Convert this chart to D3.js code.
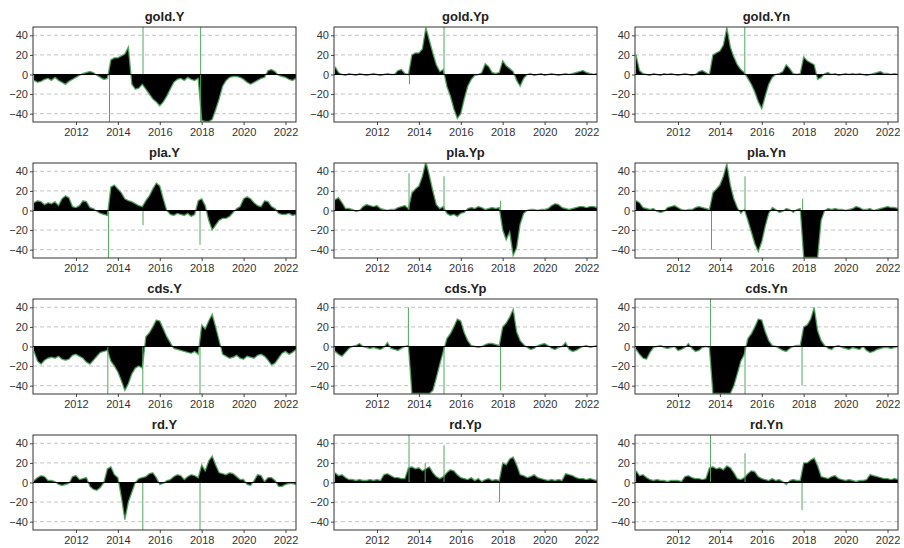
<!DOCTYPE html>
<html>
<head>
<meta charset="utf-8">
<script src="https://cdn.jsdelivr.net/npm/d3@7"></script>
<style>
  body { margin: 0; background: #fff; }
  text { font-family: "Liberation Sans", Arial, sans-serif; }
</style>
</head>
<body>
<div id="chart"></div>
<script>
// bi-monthly observations, 2010.0 .. 2022.5
const dates = d3.range(76).map(i => 2010 + i / 6);
const xTicks = [2012, 2014, 2016, 2018, 2020, 2022];
const yTicks = [-40, -20, 0, 20, 40];
const titles = ["gold.Y", "gold.Yp", "gold.Yn", "pla.Y", "pla.Yp", "pla.Yn",
                "cds.Y", "cds.Yp", "cds.Yn", "rd.Y", "rd.Yp", "rd.Yn"];

const goldY = [-6, -8, -7, -5, -4, -6, -3, -6, -8, -10, -7, -5, -3, -1, 1, 2, 3, 2,
  -1, -3, -5, -4, 15, 17, 17, 19, 21, 28, -10, -15, -14, -10, -15, -20, -25, -28,
  -32, -28, -22, -15, -8, -5, -4, -6, -3, -5, -6, -4, -47, -48, -48, -46, -36, -25,
  -12, -6, -3, -2, -2, -3, -5, -8, -10, -8, -6, -4, -3, 4, 5, 3, -1, -2, -3, -5, -6, -4];
const goldYp = [8, 2, 0, -1, 1, 0, -1, 1, 0, -1, 0, 1, 0, -1, 0, 1, 0, 0,
  4, 5, 1, 0, 20, 22, 22, 26, 48, 35, 22, 10, 3, 5, -12, -22, -35, -45,
  -40, -25, -12, -5, -1, 0, 2, 11, 8, 2, 1, 2, 14, 9, 6, 3, -6, -12,
  -4, 0, 1, -1, 0, 1, -1, 0, 1, 0, -1, 0, 1, 0, 1, 2, 3, 4, 2, 1, 0, 1];
const goldYn = [20, 4, 1, 0, -1, 1, 0, -1, 1, 0, 1, 0, -1, 0, 1, 0, -1, 0,
  3, 4, 2, 0, 20, 22, 24, 30, 48, 28, 18, 10, 5, 2, -4, -10, -18, -28,
  -35, -22, -10, -3, 0, 1, 3, 10, 6, 1, 0, 1, 18, 14, 12, 10, -5, -3,
  1, 2, 0, 1, -1, 0, 1, 0, 1, 0, 1, 0, -1, 0, 1, 2, 3, 1, 1, 0, 1, 0];
const plaY = [8, 10, 9, 6, 8, 7, 9, 5, 12, 15, 13, 4, 3, 5, 10, 9, 3, 2,
  -1, -3, -4, -5, 24, 26, 22, 18, 12, 10, 9, 7, 5, 4, 10, 15, 22, 28,
  25, 12, 0, -4, -5, -3, -4, -5, -3, -6, -4, 10, 12, 5, -10, -20, -15, -10,
  -8, -8, -6, -2, 2, 4, 12, 14, 12, 8, 5, 4, 10, 9, 4, 2, -3, -4, -4, -3, -5, -4];
const plaYp = [11, 13, 8, 2, 2, 1, -1, 0, 4, 6, 5, 4, 5, 2, 1, 0, 1, 1,
  3, 4, 5, 2, 18, 22, 25, 35, 50, 36, 20, 6, 2, 4, -3, -5, -4, -6,
  -3, -2, 2, 3, 2, 4, 3, 1, 2, 3, 2, 3, -20, -30, -22, -46, -38, -14,
  -3, 0, 1, 1, 0, 1, 1, 2, 5, 7, 6, 3, 2, 1, 2, 3, 4, 4, 3, 4, 4, 3];
const plaYn = [10, 8, 3, 2, 1, 2, -1, -2, -1, 3, 4, 5, 3, 1, 0, 1, 1, 3,
  4, 3, 2, 1, 18, 22, 26, 35, 48, 26, 12, 3, -3, 1, -10, -22, -34, -42,
  -32, -16, -3, 3, 1, -2, -1, 2, 1, -2, 1, 2, -48, -48, -48, -48, -48, -10,
  0, 2, 1, 2, 1, 1, 0, 1, 2, 4, 3, 1, 1, 2, 0, 1, 2, 3, 4, 3, 3, 2];
const cdsY = [-5, -15, -18, -14, -12, -11, -12, -10, -13, -14, -13, -9, -8, -10, -12, -16, -18, -14,
  -10, -6, -5, -4, -15, -20, -26, -35, -45, -38, -28, -22, -20, -22, 10, 14, 20, 27,
  26, 18, 10, 4, -2, -3, -4, -5, -6, -7, -5, -8, 22, 18, 26, 33, 20, 6,
  -8, -10, -12, -11, -9, -12, -13, -10, -11, -12, -9, -8, -10, -14, -19, -17, -12, -7, -5, -8, -6, -3];
const cdsYp = [-5, -8, -10, -6, -2, 0, 1, 3, 0, -1, -2, -1, -2, -3, -1, 4, -2, -3,
  -4, -2, 0, 1, -48, -48, -48, -48, -48, -48, -45, -32, -18, -5, 8, 13, 20, 28,
  26, 14, 6, 1, 0, -1, 0, 2, 3, 3, 2, 1, 20, 24, 30, 38, 15, 6,
  2, -1, -3, -2, 1, 2, 3, 1, -2, -3, -1, 0, 4, -3, -5, -4, -2, 0, 1, -1, 0, 1];
const cdsYn = [-3, -8, -12, -13, -6, -1, 0, 1, -1, -2, -1, 0, -4, -3, -1, 3, -2, -5,
  -4, -1, 0, -1, -48, -48, -48, -48, -48, -48, -40, -28, -15, -8, 8, 13, 20, 28,
  27, 15, 6, 1, 0, -2, -4, -5, -2, 0, 1, 1, 20, 22, 28, 40, 16, 6,
  1, -2, -3, 0, 1, -1, -2, -3, -1, -2, -3, 0, -4, -6, -5, -3, -2, -1, -1, -2, -1, 0];
const rdY = [2, 5, 7, 6, 2, 2, 1, -2, -3, -2, -1, 6, 7, 3, 4, 5, -4, -7,
  -8, -5, 0, 14, 16, 8, 5, -15, -38, -20, -10, 0, 4, 5, 6, 9, 10, 5,
  -2, -1, 2, 3, 6, 8, 7, 3, 6, 8, 7, 5, 18, 12, 22, 27, 18, 10,
  9, 8, 10, 9, 6, 3, 3, -2, -3, 2, 8, 7, 1, 5, 5, 2, -4, -4, -2, -1, -1, -2];
const rdYp = [10, 7, 8, 5, 3, 3, 2, 3, 2, 2, 3, 2, 3, 2, 8, 9, 7, 5,
  5, 4, 4, 15, 16, 14, 15, 12, 14, 16, 10, 6, 4, 6, 10, 13, 12, 8,
  5, 4, 3, 5, 2, 4, 1, 3, 4, 2, 3, 2, 20, 18, 24, 26, 18, 8,
  7, 5, 6, 8, 5, 4, 3, 2, 3, 2, 3, 2, 9, 8, 7, 5, 4, 4, 3, 4, 3, 2];
const rdYn = [12, 7, 8, 5, 3, 2, 3, 2, 2, 1, 2, 2, 2, 1, 6, 7, 5, 4,
  4, 3, 4, 15, 16, 14, 15, 13, 17, 15, 10, 4, 3, 5, 9, 12, 11, 6,
  4, 3, 2, 4, 2, 3, 1, -2, 2, 3, 2, 2, 20, 20, 23, 25, 17, 6,
  5, 4, 6, 7, 4, 3, 2, 3, 2, 1, 2, 2, 3, 8, 7, 6, 5, 4, 4, 3, 4, 3];

// single-observation jumps: [date, from, to]
const goldYSpikes = [[2013.6, 0, -60], [2015.2, 0, 60], [2017.95, -60, 60]];
const goldYpSpikes = [[2013.55, 0, -10], [2015.2, 0, 60]];
const goldYnSpikes = [[2015.19, 0, 60]];
const plaYSpikes = [[2013.55, 0, -60], [2015.2, 0, -15], [2017.92, 0, -35]];
const plaYpSpikes = [[2013.53, 0, 38], [2015.2, 0, 35], [2017.9, 0, 10]];
const plaYnSpikes = [[2013.6, 0, -40], [2015.2, 0, 35], [2017.95, 0, 12]];
const cdsYSpikes = [[2013.52, 0, -60], [2015.19, 0, -60], [2017.92, 0, -60]];
const cdsYpSpikes = [[2013.5, 0, 40], [2015.2, 0, -60], [2017.9, 0, -45]];
const cdsYnSpikes = [[2013.55, 0, 60], [2015.2, 0, -60], [2017.92, 0, -40]];
const rdYSpikes = [[2015.19, 0, -60], [2017.92, 0, -60]];
const rdYpSpikes = [[2013.53, 0, 60], [2014.3, 0, 20], [2015.2, 0, 38], [2017.85, 0, -20]];
const rdYnSpikes = [[2013.55, 0, 60], [2015.2, 0, 30], [2017.92, 0, -28]];

const series = [goldY, goldYp, goldYn, plaY, plaYp, plaYn, cdsY, cdsYp, cdsYn, rdY, rdYp, rdYn];
const spikes = [goldYSpikes, goldYpSpikes, goldYnSpikes, plaYSpikes, plaYpSpikes, plaYnSpikes,
  cdsYSpikes, cdsYpSpikes, cdsYnSpikes, rdYSpikes, rdYpSpikes, rdYnSpikes];

const colLeft = [33, 334, 635];
const rowTop = [27, 163, 299, 435];
const pw = 263, ph = 95;
const green = "#4fa85b";

const svg = d3.select("#chart")
  .append("svg")
  .attr("width", 904)
  .attr("height", 548);

const x = d3.scaleLinear().domain([2009.95, 2022.5]).range([0, pw]);
const y = d3.scaleLinear().domain([-48.5, 48.5]).range([ph, 0]);

const area = d3.area()
  .x((d, i) => x(dates[i]))
  .y0(y(0))
  .y1(d => y(d));
const line = d3.line()
  .x((d, i) => x(dates[i]))
  .y(d => y(d));

series.forEach((vals, k) => {
  const g = svg.append("g")
    .attr("transform", `translate(${colLeft[k % 3]},${rowTop[Math.floor(k / 3)]})`);

  g.append("clipPath").attr("id", "clip" + k)
    .append("rect").attr("width", pw).attr("height", ph);

  // dashed grid
  g.selectAll(".grid")
    .data(yTicks.filter(t => t !== 0))
    .enter()
    .append("line")
    .attr("x1", 0).attr("x2", pw)
    .attr("y1", d => y(d)).attr("y2", d => y(d))
    .attr("stroke", "#c4c4c4")
    .attr("stroke-dasharray", "4,3");

  const plot = g.append("g").attr("clip-path", `url(#clip${k})`);

  plot.append("path")
    .datum(vals)
    .attr("d", area)
    .attr("fill", "#000");

  plot.append("path")
    .datum(vals)
    .attr("d", line)
    .attr("fill", "none")
    .attr("stroke", green)
    .attr("stroke-width", 1.4)
    .attr("stroke-opacity", 0.85);

  plot.selectAll(".spike")
    .data(spikes[k])
    .enter()
    .append("line")
    .attr("x1", d => x(d[0])).attr("x2", d => x(d[0]))
    .attr("y1", d => y(d[1])).attr("y2", d => y(d[2]))
    .attr("stroke", green)
    .attr("stroke-width", 1);

  g.append("line")
    .attr("x1", 0).attr("x2", pw)
    .attr("y1", y(0)).attr("y2", y(0))
    .attr("stroke", "#000");

  const ya = g.append("g")
    .call(d3.axisLeft(y).tickValues(yTicks).tickSize(3).tickPadding(2));
  const xa = g.append("g")
    .attr("transform", `translate(0,${ph})`)
    .call(d3.axisBottom(x).tickValues(xTicks).tickFormat(d3.format("d")).tickSize(3).tickPadding(3));
  [ya, xa].forEach(a => {
    a.select(".domain").remove();
    a.selectAll("line").attr("stroke", "#444");
    a.selectAll("text").attr("fill", "#333").style("font-size", "11px");
  });

  g.append("rect")
    .attr("width", pw).attr("height", ph)
    .attr("fill", "none")
    .attr("stroke", "#333");

  g.append("text")
    .attr("x", pw / 2)
    .attr("y", -6)
    .attr("text-anchor", "middle")
    .style("font-size", "13px")
    .style("font-weight", "bold")
    .attr("fill", "#222")
    .text(titles[k]);
});
</script>
</body>
</html>
